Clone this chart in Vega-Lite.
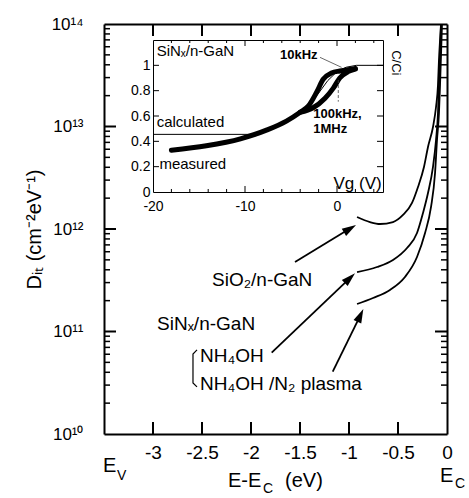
{
  "$schema": "https://vega.github.io/schema/vega-lite/v6.json",
  "width": 343,
  "height": 410,
  "autosize": "none",
  "padding": {"left": 104, "top": 24, "right": 22, "bottom": 64},
  "config": {
    "font": "Liberation Sans",
    "view": {"stroke": null},
    "axis": {"domainColor": "black", "labelColor": "black", "titleColor": "black", "grid": false, "ticks": false}
  },
  "layer": [
    {
      "layer": [
        {
          "data": {"values": [
            {"s": "SiO2", "x": -0.918, "y": 1.309e12},
            {"s": "SiO2", "x": -0.786, "y": 1.169e12},
            {"s": "SiO2", "x": -0.684, "y": 1.119e12},
            {"s": "SiO2", "x": -0.551, "y": 1.169e12},
            {"s": "SiO2", "x": -0.449, "y": 1.371e12},
            {"s": "SiO2", "x": -0.357, "y": 1.795e12},
            {"s": "SiO2", "x": -0.296, "y": 2.57e12},
            {"s": "SiO2", "x": -0.235, "y": 4.027e12},
            {"s": "SiO2", "x": -0.194, "y": 6.31e12},
            {"s": "SiO2", "x": -0.143, "y": 9.89e12},
            {"s": "SiO2", "x": -0.112, "y": 1.549e13},
            {"s": "SiO2", "x": -0.092, "y": 2.541e13},
            {"s": "SiO2", "x": -0.082, "y": 4.457e13},
            {"s": "SiO2", "x": -0.071, "y": 6.98e13},
            {"s": "SiO2", "x": -0.061, "y": 1e14},
            {"s": "NH4OH", "x": -0.918, "y": 3.8e11},
            {"s": "NH4OH", "x": -0.714, "y": 4.256e11},
            {"s": "NH4OH", "x": -0.551, "y": 4.989e11},
            {"s": "NH4OH", "x": -0.408, "y": 6.531e11},
            {"s": "NH4OH", "x": -0.306, "y": 9.14e11},
            {"s": "NH4OH", "x": -0.245, "y": 1.432e12},
            {"s": "NH4OH", "x": -0.194, "y": 2.244e12},
            {"s": "NH4OH", "x": -0.143, "y": 4.027e12},
            {"s": "NH4OH", "x": -0.112, "y": 7.38e12},
            {"s": "NH4OH", "x": -0.092, "y": 1.355e13},
            {"s": "NH4OH", "x": -0.082, "y": 2.541e13},
            {"s": "NH4OH", "x": -0.071, "y": 4.989e13},
            {"s": "NH4OH", "x": -0.061, "y": 1e14},
            {"s": "N2", "x": -0.918, "y": 1.854e11},
            {"s": "N2", "x": -0.755, "y": 2.123e11},
            {"s": "N2", "x": -0.582, "y": 2.541e11},
            {"s": "N2", "x": -0.429, "y": 3.404e11},
            {"s": "N2", "x": -0.306, "y": 5.333e11},
            {"s": "N2", "x": -0.224, "y": 9.14e11},
            {"s": "N2", "x": -0.163, "y": 1.641e12},
            {"s": "N2", "x": -0.122, "y": 3.516e12},
            {"s": "N2", "x": -0.102, "y": 7.38e12},
            {"s": "N2", "x": -0.082, "y": 1.355e13},
            {"s": "N2", "x": -0.071, "y": 2.541e13},
            {"s": "N2", "x": -0.061, "y": 4.989e13},
            {"s": "N2", "x": -0.051, "y": 1e14}
          ]},
          "mark": {"type": "line", "color": "black", "strokeWidth": 1.8, "interpolate": "monotone"},
          "encoding": {
            "x": {
              "field": "x", "type": "quantitative",
              "scale": {"domain": [-3.5, 0], "nice": false, "zero": false},
              "axis": {
                "orient": "bottom", "values": [-3, -2.5, -2, -1.5, -1, -0.5, 0],
                "labelExpr": "'' + datum.value", "labelFontSize": 19, "labelPadding": 9,
                "ticks": false, "tickSize": 0, "domain": false,
                "labelFlush": false, "labelOverlap": false, "title": null
              }
            },
            "y": {
              "field": "y", "type": "quantitative",
              "scale": {"type": "log", "domain": [1e10, 1e14], "nice": false},
              "axis": {
                "orient": "left",
                "values": [1e10, 1e11, 1e12, 1e13, 1e14],
                "labelExpr": "datum.value == 1e10 ? '10¹⁰' : datum.value == 1e11 ? '10¹¹' : datum.value == 1e12 ? '10¹²' : datum.value == 1e13 ? '10¹³' : datum.value == 1e14 ? '10¹⁴' : ''",
                "labelFontSize": 17, "labelPadding": 21, "labelBaseline": "middle",
                "ticks": false, "tickSize": 0, "domain": false, "labelOverlap": false,
                "title": "Dᵢₜ (cm⁻²eV⁻¹)", "titleFontSize": 20, "titleFontWeight": "normal", "titlePadding": 7
              }
            },
            "detail": {"field": "s"}
          }
        },
        {
          "data": {"values": [
            {"a": "a1", "x": -1.551, "y": 4.76e11},
            {"a": "a1", "x": -0.99, "y": 1.009e12},
            {"a": "a2", "x": -1.789, "y": 6.21e10},
            {"a": "a2", "x": -0.991, "y": 3.32e11},
            {"a": "a3", "x": -1.166, "y": 4.055e10},
            {"a": "a3", "x": -0.884, "y": 1.436e11}
          ]},
          "mark": {"type": "line", "color": "black", "strokeWidth": 1.8},
          "encoding": {
            "x": {
              "field": "x", "type": "quantitative",
              "axis": {"orient": "top", "offset": -410, "labels": false, "ticks": false, "domainWidth": 2, "title": null}
            },
            "y": {
              "field": "y", "type": "quantitative",
              "axis": {"orient": "right", "offset": -343, "labels": false, "ticks": false, "domainWidth": 2, "title": null}
            },
            "detail": {"field": "a"}
          }
        },
        {
          "data": {"values": [
            {"o": 1, "x": -2.551, "y": 6.61e10},
            {"o": 2, "x": -2.592, "y": 6.03e10},
            {"o": 3, "x": -2.592, "y": 3.15e10},
            {"o": 4, "x": -2.551, "y": 2.88e10}
          ]},
          "mark": {"type": "line", "color": "black", "strokeWidth": 1.2},
          "encoding": {
            "x": {
              "field": "x", "type": "quantitative",
              "axis": {"orient": "bottom", "offset": -410, "labels": false, "ticks": false, "domainWidth": 2, "title": null}
            },
            "y": {
              "field": "y", "type": "quantitative",
              "axis": {"orient": "left", "offset": -343, "labels": false, "ticks": false, "domainWidth": 2, "title": null}
            },
            "order": {"field": "o"}
          }
        },
        {
          "data": {"values": [
            {"k": "b1", "x": -3, "y": 1e10}, {"k": "b1", "x": -3, "y": 1.31e10},
            {"k": "b2", "x": -2.5, "y": 1e10}, {"k": "b2", "x": -2.5, "y": 1.31e10},
            {"k": "b3", "x": -2, "y": 1e10}, {"k": "b3", "x": -2, "y": 1.31e10},
            {"k": "b4", "x": -1.5, "y": 1e10}, {"k": "b4", "x": -1.5, "y": 1.31e10},
            {"k": "b5", "x": -1, "y": 1e10}, {"k": "b5", "x": -1, "y": 1.31e10},
            {"k": "b6", "x": -0.5, "y": 1e10}, {"k": "b6", "x": -0.5, "y": 1.31e10},
            {"k": "t1", "x": -3, "y": 1e14}, {"k": "t1", "x": -3, "y": 7.64e13},
            {"k": "t2", "x": -2.5, "y": 1e14}, {"k": "t2", "x": -2.5, "y": 7.64e13},
            {"k": "t3", "x": -2, "y": 1e14}, {"k": "t3", "x": -2, "y": 7.64e13},
            {"k": "t4", "x": -1.5, "y": 1e14}, {"k": "t4", "x": -1.5, "y": 7.64e13},
            {"k": "t5", "x": -1, "y": 1e14}, {"k": "t5", "x": -1, "y": 7.64e13},
            {"k": "t6", "x": -0.5, "y": 1e14}, {"k": "t6", "x": -0.5, "y": 7.64e13},
            {"k": "l1", "x": -3.5, "y": 1e11}, {"k": "l1", "x": -3.3776, "y": 1e11},
            {"k": "l2", "x": -3.5, "y": 1e12}, {"k": "l2", "x": -3.3776, "y": 1e12},
            {"k": "l3", "x": -3.5, "y": 1e13}, {"k": "l3", "x": -3.3776, "y": 1e13},
            {"k": "r1", "x": 0, "y": 1e11}, {"k": "r1", "x": -0.1224, "y": 1e11},
            {"k": "r2", "x": 0, "y": 1e12}, {"k": "r2", "x": -0.1224, "y": 1e12},
            {"k": "r3", "x": 0, "y": 1e13}, {"k": "r3", "x": -0.1224, "y": 1e13}
          ]},
          "mark": {"type": "line", "color": "black", "strokeWidth": 2},
          "encoding": {
            "x": {"field": "x", "type": "quantitative", "axis": null},
            "y": {"field": "y", "type": "quantitative", "axis": null},
            "detail": {"field": "k"}
          }
        },
        {
          "data": {"values": [
            {"k": "a2e10", "x": -3.5, "y": 2e10}, {"k": "a2e10", "x": -3.4388, "y": 2e10},
            {"k": "a3e10", "x": -3.5, "y": 3e10}, {"k": "a3e10", "x": -3.4388, "y": 3e10},
            {"k": "a4e10", "x": -3.5, "y": 4e10}, {"k": "a4e10", "x": -3.4388, "y": 4e10},
            {"k": "a5e10", "x": -3.5, "y": 5e10}, {"k": "a5e10", "x": -3.4388, "y": 5e10},
            {"k": "a6e10", "x": -3.5, "y": 6e10}, {"k": "a6e10", "x": -3.4388, "y": 6e10},
            {"k": "a7e10", "x": -3.5, "y": 7e10}, {"k": "a7e10", "x": -3.4388, "y": 7e10},
            {"k": "a8e10", "x": -3.5, "y": 8e10}, {"k": "a8e10", "x": -3.4388, "y": 8e10},
            {"k": "a9e10", "x": -3.5, "y": 9e10}, {"k": "a9e10", "x": -3.4388, "y": 9e10},
            {"k": "a2e11", "x": -3.5, "y": 2e11}, {"k": "a2e11", "x": -3.4388, "y": 2e11},
            {"k": "a3e11", "x": -3.5, "y": 3e11}, {"k": "a3e11", "x": -3.4388, "y": 3e11},
            {"k": "a4e11", "x": -3.5, "y": 4e11}, {"k": "a4e11", "x": -3.4388, "y": 4e11},
            {"k": "a5e11", "x": -3.5, "y": 5e11}, {"k": "a5e11", "x": -3.4388, "y": 5e11},
            {"k": "a6e11", "x": -3.5, "y": 6e11}, {"k": "a6e11", "x": -3.4388, "y": 6e11},
            {"k": "a7e11", "x": -3.5, "y": 7e11}, {"k": "a7e11", "x": -3.4388, "y": 7e11},
            {"k": "a8e11", "x": -3.5, "y": 8e11}, {"k": "a8e11", "x": -3.4388, "y": 8e11},
            {"k": "a9e11", "x": -3.5, "y": 9e11}, {"k": "a9e11", "x": -3.4388, "y": 9e11},
            {"k": "a2e12", "x": -3.5, "y": 2e12}, {"k": "a2e12", "x": -3.4388, "y": 2e12},
            {"k": "a3e12", "x": -3.5, "y": 3e12}, {"k": "a3e12", "x": -3.4388, "y": 3e12},
            {"k": "a4e12", "x": -3.5, "y": 4e12}, {"k": "a4e12", "x": -3.4388, "y": 4e12},
            {"k": "a5e12", "x": -3.5, "y": 5e12}, {"k": "a5e12", "x": -3.4388, "y": 5e12},
            {"k": "a6e12", "x": -3.5, "y": 6e12}, {"k": "a6e12", "x": -3.4388, "y": 6e12},
            {"k": "a7e12", "x": -3.5, "y": 7e12}, {"k": "a7e12", "x": -3.4388, "y": 7e12},
            {"k": "a8e12", "x": -3.5, "y": 8e12}, {"k": "a8e12", "x": -3.4388, "y": 8e12},
            {"k": "a9e12", "x": -3.5, "y": 9e12}, {"k": "a9e12", "x": -3.4388, "y": 9e12},
            {"k": "a2e13", "x": -3.5, "y": 2e13}, {"k": "a2e13", "x": -3.4388, "y": 2e13},
            {"k": "a3e13", "x": -3.5, "y": 3e13}, {"k": "a3e13", "x": -3.4388, "y": 3e13},
            {"k": "a4e13", "x": -3.5, "y": 4e13}, {"k": "a4e13", "x": -3.4388, "y": 4e13},
            {"k": "a5e13", "x": -3.5, "y": 5e13}, {"k": "a5e13", "x": -3.4388, "y": 5e13},
            {"k": "a6e13", "x": -3.5, "y": 6e13}, {"k": "a6e13", "x": -3.4388, "y": 6e13},
            {"k": "a7e13", "x": -3.5, "y": 7e13}, {"k": "a7e13", "x": -3.4388, "y": 7e13},
            {"k": "a8e13", "x": -3.5, "y": 8e13}, {"k": "a8e13", "x": -3.4388, "y": 8e13},
            {"k": "a9e13", "x": -3.5, "y": 9e13}, {"k": "a9e13", "x": -3.4388, "y": 9e13},
            {"k": "c2e10", "x": 0, "y": 2e10}, {"k": "c2e10", "x": -0.0612, "y": 2e10},
            {"k": "c3e10", "x": 0, "y": 3e10}, {"k": "c3e10", "x": -0.0612, "y": 3e10},
            {"k": "c4e10", "x": 0, "y": 4e10}, {"k": "c4e10", "x": -0.0612, "y": 4e10},
            {"k": "c5e10", "x": 0, "y": 5e10}, {"k": "c5e10", "x": -0.0612, "y": 5e10},
            {"k": "c6e10", "x": 0, "y": 6e10}, {"k": "c6e10", "x": -0.0612, "y": 6e10},
            {"k": "c7e10", "x": 0, "y": 7e10}, {"k": "c7e10", "x": -0.0612, "y": 7e10},
            {"k": "c8e10", "x": 0, "y": 8e10}, {"k": "c8e10", "x": -0.0612, "y": 8e10},
            {"k": "c9e10", "x": 0, "y": 9e10}, {"k": "c9e10", "x": -0.0612, "y": 9e10},
            {"k": "c2e11", "x": 0, "y": 2e11}, {"k": "c2e11", "x": -0.0612, "y": 2e11},
            {"k": "c3e11", "x": 0, "y": 3e11}, {"k": "c3e11", "x": -0.0612, "y": 3e11},
            {"k": "c4e11", "x": 0, "y": 4e11}, {"k": "c4e11", "x": -0.0612, "y": 4e11},
            {"k": "c5e11", "x": 0, "y": 5e11}, {"k": "c5e11", "x": -0.0612, "y": 5e11},
            {"k": "c6e11", "x": 0, "y": 6e11}, {"k": "c6e11", "x": -0.0612, "y": 6e11},
            {"k": "c7e11", "x": 0, "y": 7e11}, {"k": "c7e11", "x": -0.0612, "y": 7e11},
            {"k": "c8e11", "x": 0, "y": 8e11}, {"k": "c8e11", "x": -0.0612, "y": 8e11},
            {"k": "c9e11", "x": 0, "y": 9e11}, {"k": "c9e11", "x": -0.0612, "y": 9e11},
            {"k": "c2e12", "x": 0, "y": 2e12}, {"k": "c2e12", "x": -0.0612, "y": 2e12},
            {"k": "c3e12", "x": 0, "y": 3e12}, {"k": "c3e12", "x": -0.0612, "y": 3e12},
            {"k": "c4e12", "x": 0, "y": 4e12}, {"k": "c4e12", "x": -0.0612, "y": 4e12},
            {"k": "c5e12", "x": 0, "y": 5e12}, {"k": "c5e12", "x": -0.0612, "y": 5e12},
            {"k": "c6e12", "x": 0, "y": 6e12}, {"k": "c6e12", "x": -0.0612, "y": 6e12},
            {"k": "c7e12", "x": 0, "y": 7e12}, {"k": "c7e12", "x": -0.0612, "y": 7e12},
            {"k": "c8e12", "x": 0, "y": 8e12}, {"k": "c8e12", "x": -0.0612, "y": 8e12},
            {"k": "c9e12", "x": 0, "y": 9e12}, {"k": "c9e12", "x": -0.0612, "y": 9e12},
            {"k": "c2e13", "x": 0, "y": 2e13}, {"k": "c2e13", "x": -0.0612, "y": 2e13},
            {"k": "c3e13", "x": 0, "y": 3e13}, {"k": "c3e13", "x": -0.0612, "y": 3e13},
            {"k": "c4e13", "x": 0, "y": 4e13}, {"k": "c4e13", "x": -0.0612, "y": 4e13},
            {"k": "c5e13", "x": 0, "y": 5e13}, {"k": "c5e13", "x": -0.0612, "y": 5e13},
            {"k": "c6e13", "x": 0, "y": 6e13}, {"k": "c6e13", "x": -0.0612, "y": 6e13},
            {"k": "c7e13", "x": 0, "y": 7e13}, {"k": "c7e13", "x": -0.0612, "y": 7e13},
            {"k": "c8e13", "x": 0, "y": 8e13}, {"k": "c8e13", "x": -0.0612, "y": 8e13},
            {"k": "c9e13", "x": 0, "y": 9e13}, {"k": "c9e13", "x": -0.0612, "y": 9e13}
          ]},
          "mark": {"type": "line", "color": "black", "strokeWidth": 1.5},
          "encoding": {
            "x": {"field": "x", "type": "quantitative", "axis": null},
            "y": {"field": "y", "type": "quantitative", "axis": null},
            "detail": {"field": "k"}
          }
        },
        {
          "data": {"values": [{}]},
          "mark": {"type": "point", "shape": "M0,-1L0.6,1L-0.6,1Z", "size": 200, "filled": true, "color": "black", "opacity": 1, "angle": 58.8},
          "encoding": {
            "x": {"datum": -0.99, "type": "quantitative", "axis": null},
            "y": {"datum": 1.009e12, "type": "quantitative", "axis": null}
          }
        },
        {
          "data": {"values": [{}]},
          "mark": {"type": "point", "shape": "M0,-1L0.6,1L-0.6,1Z", "size": 200, "filled": true, "color": "black", "opacity": 1, "angle": 46.4},
          "encoding": {
            "x": {"datum": -0.991, "type": "quantitative", "axis": null},
            "y": {"datum": 3.32e11, "type": "quantitative", "axis": null}
          }
        },
        {
          "data": {"values": [{}]},
          "mark": {"type": "point", "shape": "M0,-1L0.6,1L-0.6,1Z", "size": 200, "filled": true, "color": "black", "opacity": 1, "angle": 24.8},
          "encoding": {
            "x": {"datum": -0.884, "type": "quantitative", "axis": null},
            "y": {"datum": 1.436e11, "type": "quantitative", "axis": null}
          }
        },
        {
          "data": {"values": [
            {"x": -2.398, "y": 2.78e11, "t": "SiO₂/n-GaN"},
            {"x": -2.959, "y": 1.035e11, "t": "SiNₓ/n-GaN"},
            {"x": -2.52, "y": 5.04e10, "t": "NH₄OH"},
            {"x": -2.52, "y": 2.69e10, "t": "NH₄OH /N₂ plasma"}
          ]},
          "mark": {"type": "text", "align": "left", "baseline": "alphabetic", "fontSize": 19, "color": "black"},
          "encoding": {
            "x": {"field": "x", "type": "quantitative", "axis": null},
            "y": {"field": "y", "type": "quantitative", "axis": null},
            "text": {"field": "t"}
          }
        },
        {
          "data": {"values": [
            {"x": -3.51, "y": 4.26e9, "t": "E"},
            {"x": -0.071, "y": 3.4e9, "t": "E"},
            {"x": -2.235, "y": 3.04e9, "t": "E-E"},
            {"x": -1.653, "y": 3.04e9, "t": "(eV)"}
          ]},
          "mark": {"type": "text", "align": "left", "baseline": "alphabetic", "fontSize": 20, "color": "black"},
          "encoding": {
            "x": {"field": "x", "type": "quantitative", "axis": null},
            "y": {"field": "y", "type": "quantitative", "axis": null},
            "text": {"field": "t"}
          }
        },
        {
          "data": {"values": [
            {"x": -3.367, "y": 3.56e9, "t": "V"},
            {"x": 0.082, "y": 2.97e9, "t": "C"},
            {"x": -1.878, "y": 2.65e9, "t": "C"}
          ]},
          "mark": {"type": "text", "align": "left", "baseline": "alphabetic", "fontSize": 14, "color": "black"},
          "encoding": {
            "x": {"field": "x", "type": "quantitative", "axis": null},
            "y": {"field": "y", "type": "quantitative", "axis": null},
            "text": {"field": "t"}
          }
        }
      ],
      "resolve": {"axis": {"x": "independent", "y": "independent"}}
    },
    {
      "layer": [
        {
          "data": {"values": [
            {"s": "a", "Vg": -18.0, "C": 0.33},
            {"s": "a", "Vg": -14.2, "C": 0.365},
            {"s": "a", "Vg": -10.5, "C": 0.42},
            {"s": "a", "Vg": -7.6, "C": 0.49},
            {"s": "a", "Vg": -5.5, "C": 0.56},
            {"s": "a", "Vg": -4.0, "C": 0.63},
            {"s": "a", "Vg": -3.1, "C": 0.68},
            {"s": "a", "Vg": -2.2, "C": 0.79},
            {"s": "a", "Vg": -1.5, "C": 0.89},
            {"s": "a", "Vg": -0.6, "C": 0.94},
            {"s": "a", "Vg": 0.3, "C": 0.955},
            {"s": "a", "Vg": 1.2, "C": 0.965},
            {"s": "a", "Vg": 2.0, "C": 0.975},
            {"s": "b", "Vg": -4.0, "C": 0.63},
            {"s": "b", "Vg": -2.6, "C": 0.665},
            {"s": "b", "Vg": -1.3, "C": 0.74},
            {"s": "b", "Vg": -0.4, "C": 0.82},
            {"s": "b", "Vg": 0.3, "C": 0.9},
            {"s": "b", "Vg": 1.2, "C": 0.95},
            {"s": "b", "Vg": 2.0, "C": 0.97}
          ]},
          "mark": {"type": "line", "color": "black", "strokeWidth": 5, "strokeCap": "round", "interpolate": "monotone"},
          "encoding": {
            "x": {
              "field": "Vg", "type": "quantitative",
              "scale": {"domain": [-20, 5], "range": [49, 279], "nice": false, "zero": false},
              "axis": {
                "orient": "bottom", "offset": -242,
                "values": [-20, -10, 0],
                "labelExpr": "'' + datum.value",
                "ticks": false, "tickSize": 0, "domain": false,
                "labelPadding": 7, "labelFontSize": 14,
                "labelFlush": false, "labelOverlap": false, "title": null
              }
            },
            "y": {
              "field": "C", "type": "quantitative",
              "scale": {"domain": [0, 1.2], "range": [168, 16], "nice": false, "zero": false},
              "axis": {
                "orient": "left", "offset": -49,
                "values": [0, 0.2, 0.4, 0.6, 0.8, 1],
                "labelExpr": "'' + datum.value",
                "ticks": false, "tickSize": 0, "domain": false,
                "labelPadding": 3, "labelFontSize": 14, "labelBaseline": "middle",
                "labelOverlap": false, "title": null
              }
            },
            "detail": {"field": "s"}
          }
        },
        {
          "data": {"values": [
            {"Vg": -20, "C": 0.455},
            {"Vg": -9.5, "C": 0.455},
            {"Vg": -8, "C": 0.47},
            {"Vg": -6, "C": 0.53},
            {"Vg": -4, "C": 0.62},
            {"Vg": -3, "C": 0.69},
            {"Vg": -2, "C": 0.78},
            {"Vg": -1, "C": 0.88},
            {"Vg": 0, "C": 0.95},
            {"Vg": 1, "C": 0.985},
            {"Vg": 2.1, "C": 1.0},
            {"Vg": 5, "C": 1.0}
          ]},
          "mark": {"type": "line", "color": "black", "strokeWidth": 1},
          "encoding": {
            "x": {
              "field": "Vg", "type": "quantitative",
              "axis": {"orient": "top", "offset": -168, "labels": false, "ticks": false, "domainWidth": 1, "title": null}
            },
            "y": {
              "field": "C", "type": "quantitative",
              "axis": {"orient": "right", "offset": -294, "labels": false, "ticks": false, "domainWidth": 1, "title": null}
            }
          }
        },
        {
          "data": {"values": [
            {"o": 1, "Vg": -1.85, "C": 1.063},
            {"o": 2, "Vg": 0.5, "C": 0.984}
          ]},
          "mark": {"type": "line", "color": "#444", "strokeWidth": 0.8},
          "encoding": {
            "x": {
              "field": "Vg", "type": "quantitative",
              "axis": {"orient": "bottom", "offset": -394, "labels": false, "ticks": false, "domainWidth": 1, "title": null}
            },
            "y": {
              "field": "C", "type": "quantitative",
              "axis": {"orient": "left", "offset": -279, "labels": false, "ticks": false, "domainWidth": 1, "title": null}
            },
            "order": {"field": "o"}
          }
        },
        {
          "data": {"values": [
            {"k": "yl2", "Vg": -20, "C": 0.2}, {"k": "yl2", "Vg": -19.348, "C": 0.2},
            {"k": "yl4", "Vg": -20, "C": 0.4}, {"k": "yl4", "Vg": -19.348, "C": 0.4},
            {"k": "yl6", "Vg": -20, "C": 0.6}, {"k": "yl6", "Vg": -19.348, "C": 0.6},
            {"k": "yl8", "Vg": -20, "C": 0.8}, {"k": "yl8", "Vg": -19.348, "C": 0.8},
            {"k": "yl10", "Vg": -20, "C": 1.0}, {"k": "yl10", "Vg": -19.348, "C": 1.0},
            {"k": "yr2", "Vg": 5, "C": 0.2}, {"k": "yr2", "Vg": 4.348, "C": 0.2},
            {"k": "yr4", "Vg": 5, "C": 0.4}, {"k": "yr4", "Vg": 4.348, "C": 0.4},
            {"k": "yr6", "Vg": 5, "C": 0.6}, {"k": "yr6", "Vg": 4.348, "C": 0.6},
            {"k": "yr8", "Vg": 5, "C": 0.8}, {"k": "yr8", "Vg": 4.348, "C": 0.8},
            {"k": "yr10", "Vg": 5, "C": 1.0}, {"k": "yr10", "Vg": 4.348, "C": 1.0},
            {"k": "xb-10", "Vg": -10, "C": 0}, {"k": "xb-10", "Vg": -10, "C": 0.0474},
            {"k": "xb0", "Vg": 0, "C": 0}, {"k": "xb0", "Vg": 0, "C": 0.0474},
            {"k": "xt-10", "Vg": -10, "C": 1.2}, {"k": "xt-10", "Vg": -10, "C": 1.1526},
            {"k": "xt0", "Vg": 0, "C": 1.2}, {"k": "xt0", "Vg": 0, "C": 1.1526},
            {"k": "mb-18", "Vg": -18, "C": 0}, {"k": "mb-18", "Vg": -18, "C": 0.0237},
            {"k": "mb-16", "Vg": -16, "C": 0}, {"k": "mb-16", "Vg": -16, "C": 0.0237},
            {"k": "mb-14", "Vg": -14, "C": 0}, {"k": "mb-14", "Vg": -14, "C": 0.0237},
            {"k": "mb-12", "Vg": -12, "C": 0}, {"k": "mb-12", "Vg": -12, "C": 0.0237},
            {"k": "mb-8", "Vg": -8, "C": 0}, {"k": "mb-8", "Vg": -8, "C": 0.0237},
            {"k": "mb-6", "Vg": -6, "C": 0}, {"k": "mb-6", "Vg": -6, "C": 0.0237},
            {"k": "mb-4", "Vg": -4, "C": 0}, {"k": "mb-4", "Vg": -4, "C": 0.0237},
            {"k": "mb-2", "Vg": -2, "C": 0}, {"k": "mb-2", "Vg": -2, "C": 0.0237},
            {"k": "mb2", "Vg": 2, "C": 0}, {"k": "mb2", "Vg": 2, "C": 0.0237},
            {"k": "mb4", "Vg": 4, "C": 0}, {"k": "mb4", "Vg": 4, "C": 0.0237},
            {"k": "mt-18", "Vg": -18, "C": 1.2}, {"k": "mt-18", "Vg": -18, "C": 1.1763},
            {"k": "mt-16", "Vg": -16, "C": 1.2}, {"k": "mt-16", "Vg": -16, "C": 1.1763},
            {"k": "mt-14", "Vg": -14, "C": 1.2}, {"k": "mt-14", "Vg": -14, "C": 1.1763},
            {"k": "mt-12", "Vg": -12, "C": 1.2}, {"k": "mt-12", "Vg": -12, "C": 1.1763},
            {"k": "mt-8", "Vg": -8, "C": 1.2}, {"k": "mt-8", "Vg": -8, "C": 1.1763},
            {"k": "mt-6", "Vg": -6, "C": 1.2}, {"k": "mt-6", "Vg": -6, "C": 1.1763},
            {"k": "mt-4", "Vg": -4, "C": 1.2}, {"k": "mt-4", "Vg": -4, "C": 1.1763},
            {"k": "mt-2", "Vg": -2, "C": 1.2}, {"k": "mt-2", "Vg": -2, "C": 1.1763},
            {"k": "mt2", "Vg": 2, "C": 1.2}, {"k": "mt2", "Vg": 2, "C": 1.1763},
            {"k": "mt4", "Vg": 4, "C": 1.2}, {"k": "mt4", "Vg": 4, "C": 1.1763}
          ]},
          "mark": {"type": "line", "color": "black", "strokeWidth": 1},
          "encoding": {
            "x": {"field": "Vg", "type": "quantitative", "axis": null},
            "y": {"field": "C", "type": "quantitative", "axis": null},
            "detail": {"field": "k"}
          }
        },
        {
          "data": {"values": [
            {"o": 1, "Vg": 0.14, "C": 0.884},
            {"o": 2, "Vg": 0.14, "C": 0.713}
          ]},
          "mark": {"type": "line", "color": "#444", "strokeWidth": 0.8, "strokeDash": [3, 2]},
          "encoding": {
            "x": {"field": "Vg", "type": "quantitative", "axis": null},
            "y": {"field": "C", "type": "quantitative", "axis": null},
            "order": {"field": "o"}
          }
        },
        {
          "data": {"values": [
            {"Vg": -19.6, "C": 1.073, "t": "SiNₓ/n-GaN"},
            {"Vg": -19.6, "C": 0.515, "t": "calculated"},
            {"Vg": -19.3, "C": 0.179, "t": "measured"}
          ]},
          "mark": {"type": "text", "align": "left", "baseline": "alphabetic", "fontSize": 15, "color": "black"},
          "encoding": {
            "x": {"field": "Vg", "type": "quantitative", "axis": null},
            "y": {"field": "C", "type": "quantitative", "axis": null},
            "text": {"field": "t"}
          }
        },
        {
          "data": {"values": [
            {"Vg": -6.2, "C": 1.05, "t": "10kHz"},
            {"Vg": -2.58, "C": 0.582, "t": "100kHz,"},
            {"Vg": -2.58, "C": 0.463, "t": "1MHz"}
          ]},
          "mark": {"type": "text", "align": "left", "baseline": "alphabetic", "fontSize": 13, "fontWeight": "bold", "color": "black"},
          "encoding": {
            "x": {"field": "Vg", "type": "quantitative", "axis": null},
            "y": {"field": "C", "type": "quantitative", "axis": null},
            "text": {"field": "t"}
          }
        },
        {
          "data": {"values": [
            {"Vg": 4.86, "C": 0.021, "t": "Vg (V)"}
          ]},
          "mark": {"type": "text", "align": "right", "baseline": "alphabetic", "fontSize": 17, "color": "black"},
          "encoding": {
            "x": {"field": "Vg", "type": "quantitative", "axis": null},
            "y": {"field": "C", "type": "quantitative", "axis": null},
            "text": {"field": "t"}
          }
        },
        {
          "data": {"values": [
            {"Vg": 6.4, "C": 1.02, "t": "C/Ci"}
          ]},
          "mark": {"type": "text", "align": "center", "baseline": "middle", "fontSize": 13, "angle": 90, "color": "black"},
          "encoding": {
            "x": {"field": "Vg", "type": "quantitative", "axis": null},
            "y": {"field": "C", "type": "quantitative", "axis": null},
            "text": {"field": "t"}
          }
        }
      ],
      "resolve": {"axis": {"x": "independent", "y": "independent"}}
    }
  ],
  "resolve": {
    "scale": {"x": "independent", "y": "independent"},
    "axis": {"x": "independent", "y": "independent"}
  }
}
